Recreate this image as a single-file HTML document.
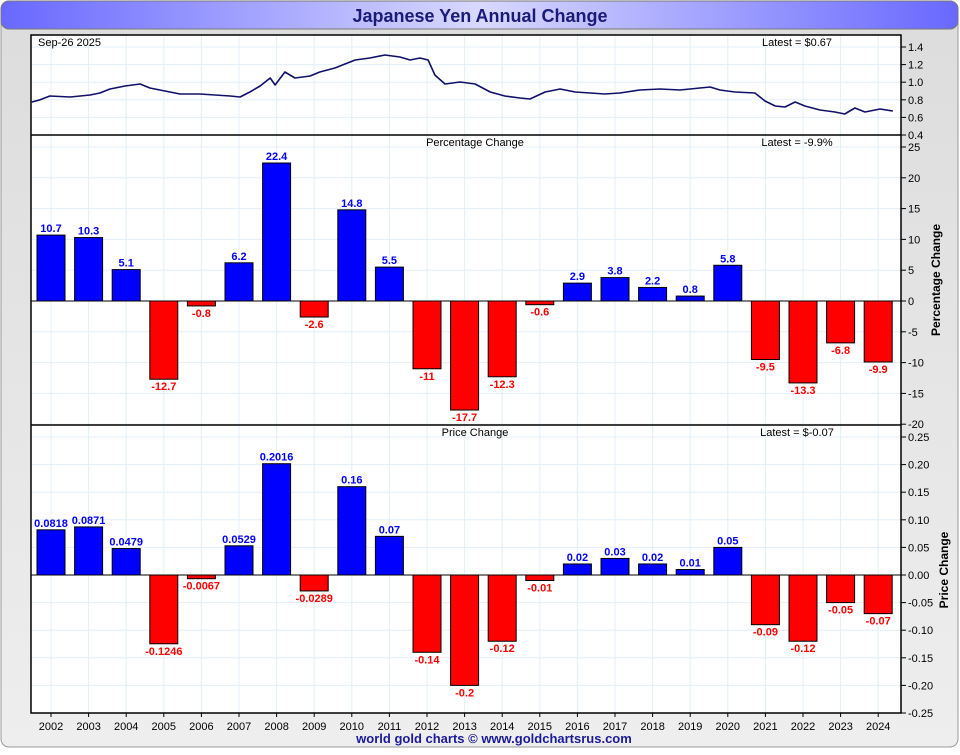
<!DOCTYPE html>
<html><head><meta charset="utf-8"><style>
body{margin:0;background:#fff;font-family:"Liberation Sans",sans-serif}
svg text{font-family:"Liberation Sans",sans-serif}
</style></head><body>
<svg width="960" height="750" xmlns="http://www.w3.org/2000/svg">
<defs><linearGradient id="tg" x1="0" x2="1"><stop offset="0" stop-color="#6868ff"/><stop offset="0.5" stop-color="#d8d8ff"/><stop offset="1" stop-color="#6868ff"/></linearGradient>
<linearGradient id="bg" x1="0" x2="0" y1="0" y2="1"><stop offset="0" stop-color="#dcdcdc"/><stop offset="1" stop-color="#eeeeee"/></linearGradient></defs>
<rect x="1" y="1" width="957" height="746" rx="8" fill="url(#bg)" stroke="#999"/>
<rect x="1" y="1" width="957" height="28" rx="8" fill="url(#tg)" stroke="#777"/>
<text x="480" y="22" text-anchor="middle" font-size="18" font-weight="bold" fill="#1a1a78">Japanese Yen Annual Change</text>
<rect x="31" y="35" width="870" height="678" fill="#fff"/>
<g id="grid"></g>
<g id="marks"></g>
<rect x="31" y="35" width="870" height="678" fill="none" stroke="#000" stroke-width="1.5"/>
<line x1="31" x2="901" y1="135" y2="135" stroke="#000" stroke-width="1.5"/>
<line x1="31" x2="901" y1="425" y2="425" stroke="#000" stroke-width="1.5"/>
<text x="38" y="46" font-size="11">Sep-26  2025</text>
<text x="797" y="46" text-anchor="middle" font-size="11">Latest = $0.67</text>
<text x="475" y="146" text-anchor="middle" font-size="11">Percentage Change</text>
<text x="797" y="146" text-anchor="middle" font-size="11">Latest = -9.9%</text>
<text x="475" y="436" text-anchor="middle" font-size="11">Price Change</text>
<text x="797" y="436" text-anchor="middle" font-size="11">Latest = $-0.07</text>
<text transform="translate(940,280) rotate(-90)" text-anchor="middle" font-size="12" font-weight="bold">Percentage Change</text>
<text transform="translate(948,570) rotate(-90)" text-anchor="middle" font-size="12" font-weight="bold">Price Change</text>
<text x="494" y="743" text-anchor="middle" font-size="13" font-weight="bold" fill="#1a1a9a">world gold charts © www.goldchartsrus.com</text>
</svg>
<script>
const years=[2002,2003,2004,2005,2006,2007,2008,2009,2010,2011,2012,2013,2014,2015,2016,2017,2018,2019,2020,2021,2022,2023,2024];
const pctValues=[10.7,10.3,5.1,-12.7,-0.8,6.2,22.4,-2.6,14.8,5.5,-11,-17.7,-12.3,-0.6,2.9,3.8,2.2,0.8,5.8,-9.5,-13.3,-6.8,-9.9];
const priceValues=[0.0818,0.0871,0.0479,-0.1246,-0.0067,0.0529,0.2016,-0.0289,0.16,0.07,-0.14,-0.2,-0.12,-0.01,0.02,0.03,0.02,0.01,0.05,-0.09,-0.12,-0.05,-0.07];
const priceLabels=["0.0818","0.0871","0.0479","-0.1246","-0.0067","0.0529","0.2016","-0.0289","0.16","0.07","-0.14","-0.2","-0.12","-0.01","0.02","0.03","0.02","0.01","0.05","-0.09","-0.12","-0.05","-0.07"];
const lineTimes=[2001.49,2001.71,2001.97,2002.51,2003.04,2003.30,2003.57,2003.97,2004.37,2004.63,2005.03,2005.43,2005.96,2006.36,2006.76,2007.03,2007.29,2007.56,2007.83,2007.96,2008.22,2008.49,2008.89,2009.15,2009.55,2009.82,2010.09,2010.48,2010.88,2011.28,2011.55,2011.81,2012.03,2012.21,2012.48,2012.88,2013.28,2013.68,2014.07,2014.47,2014.74,2015.14,2015.54,2015.94,2016.34,2016.73,2017.13,2017.66,2018.20,2018.73,2019.26,2019.53,2019.79,2020.19,2020.72,2020.99,2021.26,2021.52,2021.79,2022.05,2022.45,2022.85,2023.11,2023.38,2023.65,2024.05,2024.39];
const lineValues=[0.775,0.80,0.843,0.832,0.855,0.877,0.923,0.957,0.98,0.934,0.90,0.866,0.866,0.855,0.843,0.832,0.889,0.957,1.048,0.968,1.116,1.048,1.07,1.116,1.161,1.207,1.252,1.275,1.309,1.286,1.252,1.275,1.252,1.082,0.98,1.002,0.98,0.889,0.843,0.82,0.809,0.889,0.923,0.889,0.877,0.866,0.877,0.911,0.923,0.911,0.934,0.945,0.911,0.889,0.877,0.786,0.73,0.718,0.775,0.73,0.684,0.661,0.639,0.707,0.661,0.695,0.673];
const topTicks=[0.4,0.6,0.8,1.0,1.2,1.4];
const pctTicks=[-20,-15,-10,-5,0,5,10,15,20,25];
const priceTicks=[-0.25,-0.2,-0.15,-0.1,-0.05,0,0.05,0.1,0.15,0.2,0.25];
const NS="http://www.w3.org/2000/svg";
const X=y=>51+(y-2002)*37.6;
const yTop=v=>135-(v-0.4)*88;
const yPct=v=>301-v*6.16;
const yPrice=v=>575-v*552;
const grid=document.getElementById('grid'),marks=document.getElementById('marks');
function mk(t,a,p){const e=document.createElementNS(NS,t);for(const k in a)e.setAttribute(k,a[k]);(p||marks).appendChild(e);return e;}
function txt(x,y,s,a){const e=mk('text',Object.assign({x:x,y:y,'font-size':11},a||{}));e.textContent=s;return e;}
years.forEach(yr=>{mk('line',{x1:X(yr),x2:X(yr),y1:35,y2:713,stroke:'#e3eff8'},grid);
 mk('line',{x1:X(yr),x2:X(yr),y1:713,y2:717,stroke:'#000'});
 const t=txt(X(yr),730,String(yr),{'text-anchor':'middle'});
 
 });
function yAxis(ticks,f,fmt){ticks.forEach(v=>{const y=f(v);
 mk('line',{x1:31,x2:901,y1:y,y2:y,stroke:'#e3eff8'},grid);
 mk('line',{x1:901,x2:906,y1:y,y2:y,stroke:'#000'});
 const t=txt(908,y+4,fmt(v));
 
 });}
yAxis(topTicks,yTop,v=>v.toFixed(1));
yAxis(pctTicks,yPct,v=>String(v));
yAxis(priceTicks,yPrice,v=>v.toFixed(2));
mk('line',{x1:901,x2:901,y1:35,y2:713,stroke:'#000'});
let d='';lineTimes.forEach((t,i)=>{d+=(i?'L':'M')+X(t).toFixed(1)+','+yTop(lineValues[i]).toFixed(1);});
const pl=mk('path',{d:d,fill:'none',stroke:'#10106a','stroke-width':1.6,'stroke-linejoin':'round'});


function bars(vals,f,labels,name){mk('line',{x1:31,x2:901,y1:f(0),y2:f(0),stroke:'#000'});
 vals.forEach((v,i)=>{const x=X(years[i])-14,y0=f(0),y1=f(v);const pos=v>=0;
 const r=mk('rect',{x:x,y:Math.min(y0,y1),width:28,height:Math.abs(y1-y0),fill:pos?'#0000ff':'#ff0000',stroke:'#000'});
 
 
 const t=txt(X(years[i]),pos?y1-3:y1+11,labels[i],{'text-anchor':'middle','font-weight':'bold',fill:pos?'#0000ff':'#ff0000'});
 
 });}
bars(pctValues,yPct,pctValues.map(String),'pct');
bars(priceValues,yPrice,priceLabels,'price');
</script>
</body></html>
